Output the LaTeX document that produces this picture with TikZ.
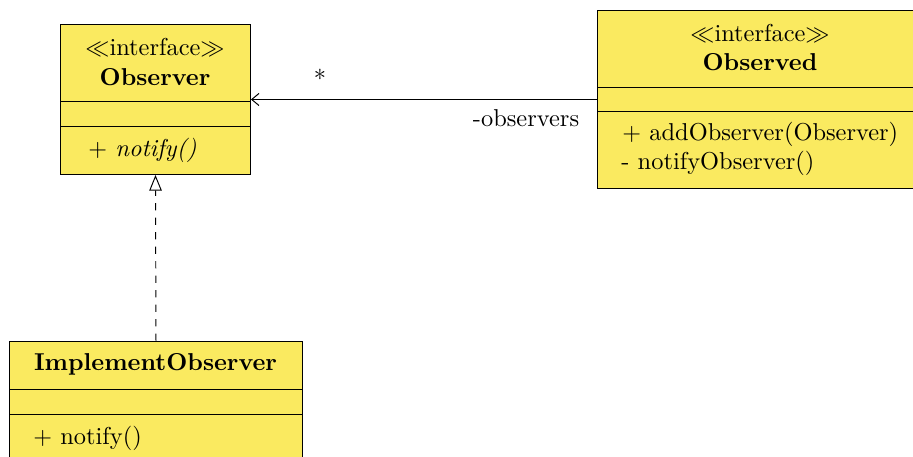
\documentclass[tikz,border=0pt]{standalone}
\usetikzlibrary{arrows.meta}
\definecolor{umlfill}{RGB}{250,234,96}
\begin{document}
\begin{tikzpicture}[x=0.4137pt,y=-0.4137pt,
  umlbox/.style={draw=black,fill=umlfill,line width=0.4pt,rectangle,inner sep=0pt,anchor=north west},
  txt/.style={inner sep=0pt,font=\fontsize{10.1}{12}\selectfont},
  sep/.style={draw=black,line width=0.4pt}]
\useasboundingbox (0,0) rectangle (913,457);
\clip (0,0) rectangle (913,457);
% Observer
\node[umlbox,minimum width=190*0.4137pt,minimum height=150*0.4137pt] (obs) at (60,24) {};
\draw[sep] (60,101) -- (250,101);
\draw[sep] (60,126) -- (250,126);
\node[txt] (obsst) at (155,47) {$\ll$interface$\gg$};
\node[txt] (obsname) at (155,77) {\textbf{Observer}};
\node[txt,anchor=west] (obsop) at (88,150) {$+$ \textit{notify()}};
% Observed
\node[umlbox,minimum width=320*0.4137pt,minimum height=178*0.4137pt] (obsd) at (597,10) {};
\draw[sep] (597,87) -- (917,87);
\draw[sep] (597,111) -- (917,111);
\node[txt] (obsdst) at (760,33) {$\ll$interface$\gg$};
\node[txt] (obsdname) at (760,62) {\textbf{Observed}};
\node[txt,anchor=west] (obsdop1) at (622,134) {$+$ addObserver(Observer)};
\node[txt,anchor=west] (obsdop2) at (621,163) {- notifyObserver()};
% ImplementObserver
\node[umlbox,minimum width=293*0.4137pt,minimum height=140*0.4137pt] (impl) at (9,341) {};
\draw[sep] (9,389) -- (302,389);
\draw[sep] (9,414) -- (302,414);
\node[txt] (implname) at (155.5,364) {\textbf{ImplementObserver}};
\node[txt,anchor=west] (implop) at (33,438) {$+$ notify()};
% association
\draw[line width=0.4pt,-{Straight Barb[length=3pt,width=5pt]}] (obsd.west) -- (obs.east);
\node[txt] (mult) at (320,78) {*};
\node[txt] (role) at (526,118) {-observers};
% realization
\draw[line width=0.4pt,dashed,-{Triangle[open,length=6.5pt,width=5.2pt,fill=white]}] (impl.north) -- (obs.south);
\end{tikzpicture}
\end{document}
